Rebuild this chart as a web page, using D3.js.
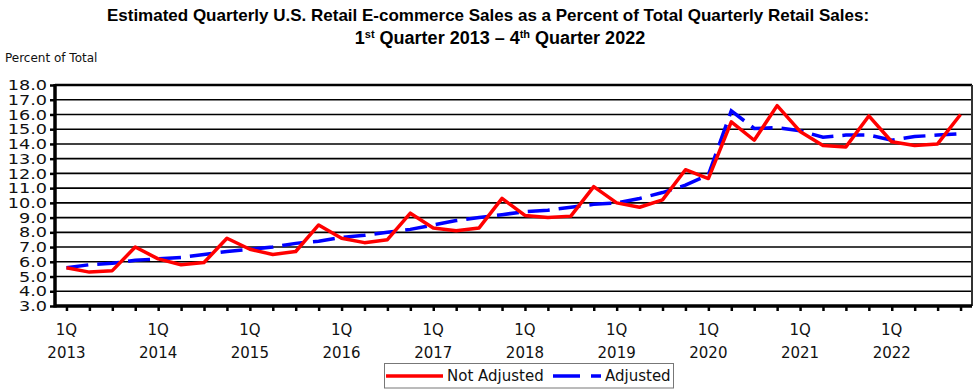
<!DOCTYPE html>
<meta charset="utf-8">
<style>
  body { margin: 0; background: #fff; }
  svg { display: block; }
  .title { font-family: 'Liberation Sans Narrow', 'Liberation Sans', sans-serif; font-weight: bold; font-size: 17px; fill: #000; }
  .lbl { font-family: 'DejaVu Sans', sans-serif; fill: #111; }
</style>
<body>
<svg width="978" height="391"></svg>
<script src="https://d3js.org/d3.v7.min.js"></script>
<script>
// Kategorie: kwartały 2013-2022
const years = [2013, 2014, 2015, 2016, 2017, 2018, 2019, 2020, 2021, 2022];
const quarters = [];
years.forEach(y => [1, 2, 3, 4].forEach(q => quarters.push(y + 'Q' + q)));

// Wartości (procent całkowitej sprzedaży)
const notAdjusted = [5.6, 5.3, 5.4, 7.0, 6.2, 5.8, 5.95, 7.6, 6.85, 6.5, 6.7, 8.5,
  7.6, 7.3, 7.5, 9.3, 8.3, 8.1, 8.3, 10.3, 9.15, 9.0, 9.1, 11.1,
  10.0, 9.7, 10.2, 12.25, 11.65, 15.5, 14.25, 16.6, 14.85, 13.9, 13.8, 15.9,
  14.15, 13.9, 14.0, 16.0];
const adjusted = [5.6, 5.8, 5.9, 6.1, 6.2, 6.3, 6.5, 6.7, 6.85, 7.0, 7.25, 7.4,
  7.65, 7.8, 8.0, 8.2, 8.5, 8.8, 9.0, 9.2, 9.4, 9.5, 9.7, 9.9,
  10.0, 10.3, 10.7, 11.2, 11.9, 16.25, 15.05, 15.1, 14.9, 14.45, 14.6, 14.6,
  14.25, 14.5, 14.6, 14.7];
const yTicks = d3.range(3, 18.01, 1);

const svg = d3.select('svg');
const mLeft = 55, mRight = 972, mTop = 85, mBottom = 306;

const x = d3.scalePoint().domain(quarters).range([mLeft, mRight]).padding(0.5);
const y = d3.scaleLinear().domain([3, 18]).range([mBottom, mTop]);

// Tytuł
const title = svg.append('g').attr('class', 'title').attr('text-anchor', 'middle');
title.append('text').attr('x', 488).attr('y', 21)
  .text('Estimated Quarterly U.S. Retail E-commerce Sales as a Percent of Total Quarterly Retail Sales:');
const t2 = title.append('text').attr('x', 500).attr('y', 44).attr('font-size', '18px');
t2.append('tspan').text('1');
t2.append('tspan').attr('font-size', '11px').attr('dy', -6).text('st');
t2.append('tspan').attr('dy', 6).text(' Quarter 2013 \u2013 4');
t2.append('tspan').attr('font-size', '11px').attr('dy', -6).text('th');
t2.append('tspan').attr('dy', 6).text(' Quarter 2022');

svg.append('text').attr('class', 'lbl').attr('x', 5).attr('y', 62)
  .attr('font-size', '12px').text('Percent of Total');

// Linie siatki
svg.append('g').selectAll('line').data(yTicks.filter(d => d > 3)).join('line')
  .attr('x1', mLeft).attr('x2', mRight)
  .attr('y1', d => y(d)).attr('y2', d => y(d))
  .attr('stroke', '#000').attr('stroke-width', d => d === 18 ? 2.5 : 1.6);

// Prawa krawędź
svg.append('line').attr('x1', mRight).attr('x2', mRight).attr('y1', mTop).attr('y2', mBottom)
  .attr('stroke', '#333').attr('stroke-width', 2);

// Oś Y (etykiety lekko rozciągnięte w poziomie)
const sx = 1.22;
const yAxis = svg.append('g').attr('transform', `translate(${mLeft},0)`)
  .call(d3.axisLeft(y).tickValues(yTicks).tickFormat(d3.format('.1f')).tickSize(5).tickPadding(3));
yAxis.select('.domain').remove();
yAxis.selectAll('line').attr('stroke', '#000').attr('stroke-width', 2.5);
yAxis.selectAll('text').attr('class', 'lbl').attr('font-size', '14.5px')
  .attr('x', -8 / sx).attr('transform', `scale(${sx},1)`);
svg.append('line').attr('x1', mLeft).attr('x2', mLeft).attr('y1', mTop - 1).attr('y2', mBottom + 1.5)
  .attr('stroke', '#000').attr('stroke-width', 3.5);

// Oś X
const xAxis = svg.append('g').attr('transform', `translate(0,${mBottom})`)
  .call(d3.axisBottom(x).tickSize(5).tickFormat(''));
xAxis.select('.domain').remove();
xAxis.selectAll('line').attr('stroke', '#000').attr('stroke-width', 2.5);
svg.append('line').attr('x1', mLeft).attr('x2', mRight).attr('y1', mBottom).attr('y2', mBottom)
  .attr('stroke', '#000').attr('stroke-width', 3.5);

const firstQ = quarters.filter(q => q.endsWith('Q1'));
const xl = svg.append('g').attr('class', 'lbl').attr('text-anchor', 'middle').attr('font-size', '15px');
xl.selectAll('.q').data(firstQ).join('text').attr('class', 'q')
  .attr('x', d => x(d)).attr('y', 335).text('1Q');
xl.selectAll('.yr').data(firstQ).join('text').attr('class', 'yr')
  .attr('x', d => x(d)).attr('y', 358).text(d => d.slice(0, 4));

// Serie
const line = d3.line().x((d, i) => x(quarters[i])).y(d => y(d));
svg.append('path').datum(adjusted).attr('d', line)
  .attr('fill', 'none').attr('stroke', '#0000ff').attr('stroke-width', 3.5)
  .attr('stroke-dasharray', '22,9');
svg.append('path').datum(notAdjusted).attr('d', line)
  .attr('fill', 'none').attr('stroke', '#ff0000').attr('stroke-width', 3.5)
  .attr('stroke-linejoin', 'round');

// Legenda
const lg = svg.append('g');
lg.append('rect').attr('x', 384.5).attr('y', 363.5).attr('width', 289).attr('height', 24.5)
  .attr('fill', '#fff').attr('stroke', '#777').attr('stroke-width', 1);
lg.append('line').attr('x1', 386).attr('x2', 443).attr('y1', 376).attr('y2', 376)
  .attr('stroke', '#ff0000').attr('stroke-width', 3.5);
lg.append('text').attr('class', 'lbl').attr('x', 447).attr('y', 381).attr('font-size', '15px').text('Not Adjusted');
lg.append('line').attr('x1', 553).attr('x2', 601).attr('y1', 376).attr('y2', 376)
  .attr('stroke', '#0000ff').attr('stroke-width', 3.5).attr('stroke-dasharray', '27,11');
lg.append('text').attr('class', 'lbl').attr('x', 605).attr('y', 381).attr('font-size', '15px').text('Adjusted');
</script>
</body>
